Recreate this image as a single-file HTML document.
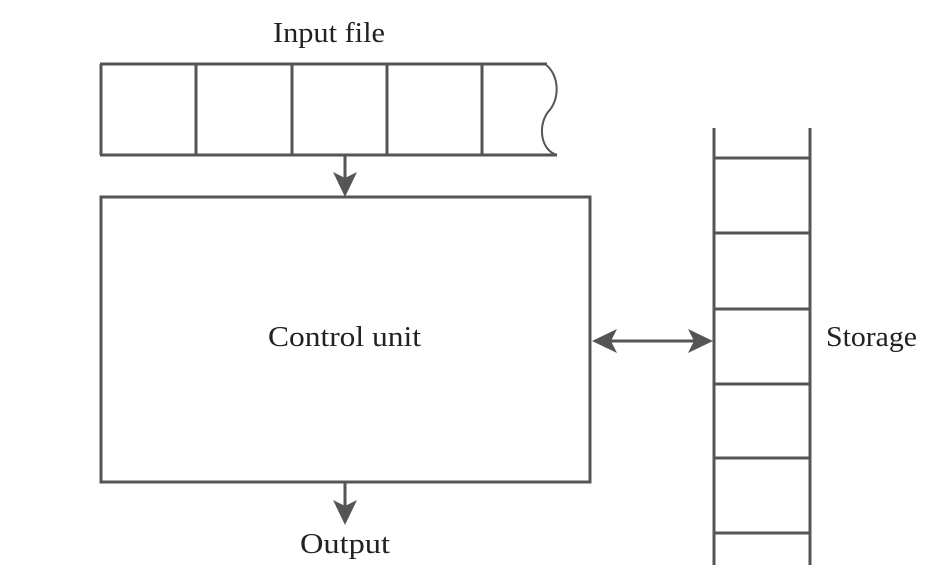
<!DOCTYPE html>
<html><head><meta charset="utf-8"><style>
html,body{margin:0;padding:0;background:#fff;}
svg{display:block}
text{font-family:"Liberation Serif",serif;fill:#222;font-size:28px}
</style></head><body>
<svg width="942" height="582" viewBox="0 0 942 582" xmlns="http://www.w3.org/2000/svg">
<g stroke="#555" stroke-width="3" fill="none">
  <line x1="100" y1="64" x2="547" y2="64"/>
  <line x1="100" y1="155" x2="557" y2="155" />
  <line x1="101" y1="64" x2="101" y2="155"/>
  <line x1="196" y1="64" x2="196" y2="155"/>
  <line x1="292" y1="64" x2="292" y2="155"/>
  <line x1="387" y1="64" x2="387" y2="155"/>
  <line x1="482" y1="64" x2="482" y2="155"/>
  <path d="M545 64 C560 75, 560 100, 548 112 C538 125, 540 150, 557 155" stroke-width="2"/>
  <rect x="101" y="197" width="489" height="285"/>
  <line x1="345" y1="155" x2="345" y2="182"/>
  <line x1="345" y1="482" x2="345" y2="508"/>
  <line x1="714" y1="128" x2="714" y2="565"/>
  <line x1="810" y1="128" x2="810" y2="565"/>
  <line x1="714" y1="158" x2="810" y2="158"/>
  <line x1="714" y1="233" x2="810" y2="233"/>
  <line x1="714" y1="309" x2="810" y2="309"/>
  <line x1="714" y1="384" x2="810" y2="384"/>
  <line x1="714" y1="458" x2="810" y2="458"/>
  <line x1="714" y1="533" x2="810" y2="533"/>
  <line x1="605" y1="341" x2="700" y2="341"/>
</g>
<g fill="#555">
  <polygon points="333,172 345,197 357,172 345,178"/>
  <polygon points="333,500 345,525 357,500 345,506"/>
  <polygon points="592,341 617,329 611,341 617,353"/>
  <polygon points="713,341 688,329 694,341 688,353"/>
</g>
<text x="273" y="42" textLength="112" lengthAdjust="spacingAndGlyphs">Input file</text>
<text x="268" y="346" textLength="153" lengthAdjust="spacingAndGlyphs">Control unit</text>
<text x="300" y="553" textLength="90" lengthAdjust="spacingAndGlyphs">Output</text>
<text x="826" y="346" textLength="91" lengthAdjust="spacingAndGlyphs">Storage</text>
</svg>
</body></html>
